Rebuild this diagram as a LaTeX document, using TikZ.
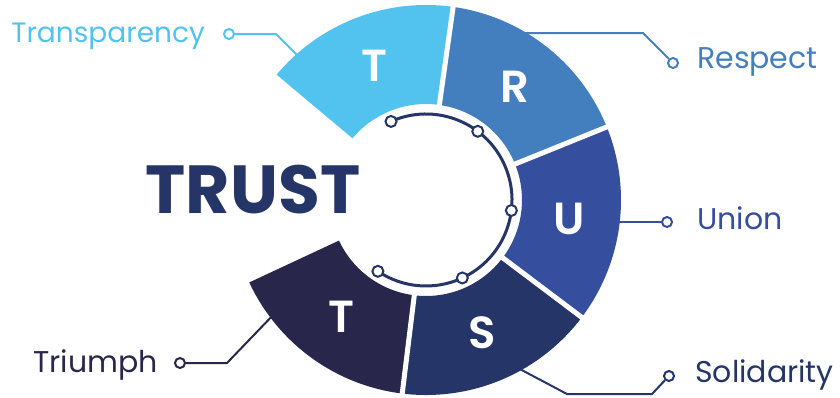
\documentclass[tikz,border=0pt]{standalone}
\usepackage{fontspec}
\setmainfont{Poppins}
\newfontfamily\demigras{Poppins}[UprightFont=* SemiBold]
\usepackage{tikz}
\newcommand{\rint}{96}
\newcommand{\rext}{195}
\newcommand{\rarc}{86}
\newcommand{\rlet}{144}
\definecolor{bleuciel}{RGB}{82,194,239}
\definecolor{bleumoyen}{RGB}{67,126,191}
\definecolor{bleuroi}{RGB}{54,78,158}
\definecolor{bleumarine}{RGB}{37,53,104}
\definecolor{bleunuit}{RGB}{41,38,75}
\tikzstyle{lien}=[line width=2pt]
\tikzstyle{pastille}=[circle, line width=2pt, minimum size=10pt, inner sep=0pt]
\tikzstyle{etiq}=[inner sep=0pt, font=\fontsize{30}{30}\selectfont]
\tikzstyle{lettre}=[inner sep=0pt, white, font=\demigras\fontsize{45}{45}\selectfont]

\begin{document}
\begin{tikzpicture}[x=1pt,y=1pt]
\useasboundingbox (-426,-197) rectangle (414,200);

% liens vers les etiquettes
\node[pastille, draw=bleuciel, fill=white] (pT) at (-197,166) {};
\coordinate (cT) at (-150,166);
\coordinate (sT) at (-126,142);
\draw[lien, bleuciel] (pT) -- (cT) -- (sT);
\node[etiq, bleuciel, anchor=base east, font=\fontsize{28}{28}\selectfont] (tT) at (-221,158) {Transparency};

\node[pastille, draw=bleumoyen, fill=white] (pR) at (247,137) {};
\coordinate (cR) at (217,167);
\coordinate (sR) at (94,167);
\draw[lien, bleumoyen] (pR) -- (cR) -- (sR);
\node[etiq, bleumoyen, anchor=base west] (tR) at (271,132) {Respect};

\node[pastille, draw=bleuroi, fill=white] (pU) at (241,-22) {};
\coordinate (sU) at (185,-22);
\draw[lien, bleuroi] (pU) -- (sU);
\node[etiq, bleuroi, anchor=base west] (tU) at (271,-29) {Union};

\node[pastille, draw=bleumarine, fill=white] (pS) at (243,-176) {};
\coordinate (cS) at (226,-194);
\coordinate (dS) at (141,-194);
\coordinate (sS) at (90,-167);
\draw[lien, bleumarine] (pS) -- (cS) -- (dS) -- (sS);
\node[etiq, bleumarine, anchor=base west] (tS) at (269,-182) {Solidarity};

\node[pastille, draw=bleunuit, fill=white] (pN) at (-246,-163) {};
\coordinate (cN) at (-199,-163);
\coordinate (sN) at (-149,-111);
\draw[lien, bleunuit] (pN) -- (cN) -- (sN);
\node[etiq, bleunuit, anchor=base east] (tN) at (-268,-172) {Triumph};

% secteurs
\foreach \a/\b/\c/\l [count=\i] in {140/82/bleuciel/T, 82/22/bleumoyen/R, 22/-37/bleuroi/U, -37/-97/bleumarine/S, -97/-155/bleunuit/T}
{
\fill[\c] (\a:\rint) arc (\a:\b:\rint) -- (\b:\rext) arc (\b:\a:\rext) -- cycle;
\node[lettre] (l\i) at ({(\a+\b)/2}:\rlet) {\l};
}

\foreach \a in {82,22,-37,-97}
\draw[white, line width=5pt] (\a:\rint-8) -- (\a:\rext+8);

% arc interieur
\draw[bleumarine, line width=3pt] (114:\rarc) arc (114:-124:\rarc);
\foreach \a [count=\i] in {114,53,-7,-65,-124}
\node[pastille, draw=bleumarine, fill=white, minimum size=11pt] (d\i) at (\a:\rarc) {};

\node[inner sep=0pt, bleumarine, font=\bfseries\fontsize{68}{68}\selectfont] (titre) at (-173,10) {TRUST};

\end{tikzpicture}
\end{document}
